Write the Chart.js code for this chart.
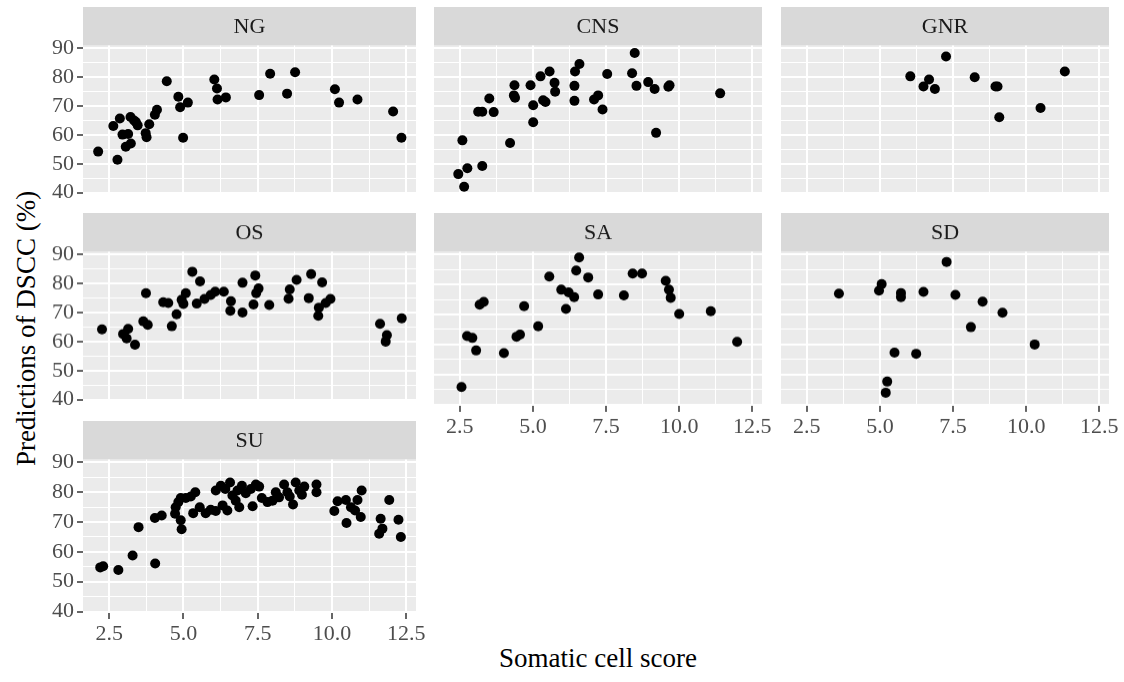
<!DOCTYPE html>
<html>
<head>
<meta charset="utf-8">
<script src="https://cdn.jsdelivr.net/npm/chart.js@4.4.1/dist/chart.umd.min.js"></script>
<style>
  html, body { margin: 0; padding: 0; background: #fff; }
  #wrap { position: relative; width: 1124px; height: 682px; overflow: hidden; }
  #wrap canvas { position: absolute; }
  .axis-title { position: absolute; font-family: "Liberation Serif", "Times New Roman", serif; font-size: 27px; color: #000; white-space: nowrap; }
</style>
</head>
<body>
<div id="wrap">
  <div class="axis-title" id="xTitle">Somatic cell score</div>
  <div class="axis-title" id="yTitle">Predictions of DSCC (%)</div>
</div>
<script>
// facet labels, in facet_wrap order
const groups = ['NG', 'CNS', 'GNR', 'OS', 'SA', 'SD', 'SU'];

// x = somatic cell score, y = predicted DSCC (%) for each group
const ngScore = [2.13, 2.64, 2.86, 2.78, 2.95, 3.14, 3.06, 3.23, 3.22, 3.34, 3.46, 3.40, 3.73, 3.76, 3.85, 4.04, 4.11, 4.44, 4.83, 4.89, 5.15, 4.99, 6.04, 6.13, 6.15, 6.43, 7.55, 7.92, 8.49, 8.76, 10.10, 10.24, 10.86, 12.06, 12.34];
const ngPred  = [54.2, 63.1, 65.7, 51.4, 60.1, 60.3, 55.9, 57.0, 66.2, 65.0, 63.3, 64.5, 60.6, 59.2, 63.7, 67.0, 68.7, 78.6, 73.2, 69.6, 71.2, 59.0, 79.2, 76.1, 72.3, 73.0, 73.8, 81.2, 74.3, 81.7, 75.8, 71.2, 72.3, 68.1, 59.0];

const cnsScore = [8.48, 6.59, 6.44, 5.57, 5.26, 5.74, 5.76, 6.42, 6.42, 7.54, 8.39, 8.54, 8.94, 9.16, 9.63, 9.67, 11.40, 9.21, 7.09, 7.23, 7.38, 4.92, 5.01, 5.01, 5.35, 5.43, 4.37, 4.35, 4.39, 4.22, 3.51, 3.13, 3.27, 3.66, 2.59, 3.27, 2.76, 2.45, 2.65];
const cnsPred  = [88.4, 84.6, 82.0, 82.0, 80.3, 78.1, 75.0, 77.0, 71.8, 81.1, 81.4, 77.0, 78.3, 75.9, 76.7, 77.2, 74.4, 60.7, 72.3, 73.7, 68.8, 77.2, 70.3, 64.4, 72.0, 71.4, 77.2, 73.7, 72.9, 57.2, 72.6, 68.0, 68.0, 67.9, 58.1, 49.2, 48.4, 46.4, 42.0];

const gnrScore = [6.04, 6.49, 6.68, 6.88, 7.26, 8.24, 8.95, 9.02, 9.08, 10.49, 11.32];
const gnrPred  = [80.3, 76.8, 79.2, 75.9, 87.2, 80.0, 76.8, 76.8, 66.1, 69.3, 82.0];

const osScore = [2.26, 2.97, 3.14, 3.09, 3.37, 3.74, 3.65, 3.80, 4.32, 4.49, 4.61, 4.77, 4.94, 5.00, 5.08, 5.30, 5.56, 5.45, 5.71, 5.92, 6.07, 6.36, 6.60, 6.58, 6.99, 6.99, 7.36, 7.42, 7.53, 7.45, 7.89, 8.54, 8.58, 8.81, 9.22, 9.30, 9.67, 9.56, 9.54, 9.79, 9.95, 11.62, 11.85, 11.81, 12.35];
const osPred  = [64.2, 62.6, 64.4, 61.1, 58.9, 76.7, 67.0, 65.8, 73.6, 73.3, 65.3, 69.4, 74.4, 73.0, 76.7, 84.1, 80.8, 73.1, 74.7, 76.1, 77.2, 77.2, 73.9, 70.6, 80.3, 70.0, 72.8, 82.8, 78.3, 76.7, 72.6, 74.8, 78.0, 81.3, 75.0, 83.3, 80.4, 71.7, 68.9, 73.3, 74.7, 66.1, 62.2, 60.0, 68.0];

const saScore = [2.56, 2.75, 2.93, 3.06, 3.18, 3.32, 4.01, 4.44, 4.56, 4.70, 5.18, 5.56, 5.97, 6.22, 6.41, 6.13, 6.48, 6.58, 6.89, 7.23, 8.11, 8.41, 8.73, 9.54, 9.65, 9.71, 10.00, 11.08, 11.98];
const saPred  = [45.8, 62.8, 62.2, 58.0, 73.3, 74.2, 57.1, 62.6, 63.3, 72.8, 66.1, 82.7, 78.3, 77.4, 75.8, 71.9, 84.7, 89.1, 82.4, 76.7, 76.4, 83.7, 83.7, 81.3, 78.3, 75.6, 70.2, 71.1, 60.9];

const sdScore = [3.60, 4.97, 5.06, 5.72, 5.72, 6.49, 7.28, 7.58, 8.51, 9.19, 8.11, 10.29, 5.50, 6.24, 5.25, 5.20];
const sdPred  = [77.0, 78.0, 80.2, 77.2, 75.8, 77.6, 87.6, 76.6, 74.3, 70.6, 65.8, 60.0, 57.3, 56.9, 47.6, 43.9];

const suScore = [2.20, 2.30, 2.81, 3.29, 3.49, 4.05, 4.04, 4.27, 4.72, 4.74, 4.83, 4.91, 4.91, 4.94, 5.08, 5.25, 5.40, 5.33, 5.55, 5.75, 5.92, 6.09, 6.09, 6.26, 6.32, 6.41, 6.48, 6.57, 6.65, 6.76, 6.82, 6.88, 6.97, 7.10, 7.27, 7.33, 7.44, 7.55, 7.64, 7.83, 8.00, 8.11, 8.22, 8.39, 8.50, 8.58, 8.69, 8.78, 8.90, 8.99, 9.07, 9.48, 9.48, 10.08, 10.19, 10.47, 10.49, 10.64, 10.78, 10.86, 10.97, 11.00, 11.64, 11.59, 11.70, 11.93, 12.24, 12.32];
const suPred  = [54.8, 55.2, 53.9, 58.8, 68.3, 56.1, 71.4, 72.2, 72.8, 75.0, 76.7, 78.1, 70.6, 67.6, 78.1, 78.6, 80.0, 73.0, 75.0, 73.0, 74.1, 73.7, 80.6, 82.2, 75.6, 81.1, 73.9, 83.3, 78.9, 77.2, 80.6, 75.0, 82.2, 79.7, 81.1, 75.3, 82.6, 81.9, 78.1, 76.7, 77.2, 80.0, 78.3, 82.6, 80.0, 78.6, 75.9, 83.3, 80.6, 79.2, 81.9, 82.6, 80.0, 73.7, 77.0, 77.4, 69.7, 75.0, 73.9, 77.4, 71.7, 80.6, 71.1, 66.1, 67.8, 77.4, 70.8, 65.0];

// axis tick labels
const xTickLabels = ['2.5', '5.0', '7.5', '10.0', '12.5'];
const yTickLabels = ['40', '50', '60', '70', '80', '90'];

const seriesX = [ngScore, cnsScore, gnrScore, osScore, saScore, sdScore, suScore];
const seriesY = [ngPred, cnsPred, gnrPred, osPred, saPred, sdPred, suPred];

// facet grid geometry
const colLeft = [82.5, 429, 776];
const rowTop = [6.7, 213.3, 420.7];
const plotW = 333, plotH = 154, stripH = 38.5;
const yAxisW = 52, xAxisH = 40, padR = 16;

const serif = '"Liberation Serif", "Times New Roman", serif';

const facetPlugin = {
  id: 'facet',
  beforeDraw(chart, args, opts) {
    const {ctx, chartArea: a} = chart;
    ctx.save();
    ctx.fillStyle = '#ebebeb';
    ctx.fillRect(a.left, a.top, a.right - a.left, a.bottom - a.top);
    ctx.fillStyle = '#d9d9d9';
    ctx.fillRect(a.left, a.top - stripH, a.right - a.left, stripH);
    ctx.fillStyle = '#1a1a1a';
    ctx.font = '22px ' + serif;
    ctx.textAlign = 'center';
    ctx.textBaseline = 'middle';
    ctx.fillText(opts.label, (a.left + a.right) / 2, a.top - stripH / 2 + 1);
    ctx.restore();
  }
};

const wrap = document.getElementById('wrap');

groups.forEach((name, i) => {
  const row = Math.floor(i / 3), col = i % 3;
  const showY = col === 0;
  const showX = i === 4 || i === 5 || i === 6;
  const yw = showY ? yAxisW : 0;
  const xh = showX ? xAxisH : 0;

  const canvas = document.createElement('canvas');
  const w = yw + plotW + padR, h = stripH + plotH + xh;
  canvas.width = w;
  canvas.height = h;
  canvas.style.width = w + 'px';
  canvas.style.height = h + 'px';
  canvas.style.left = (colLeft[col] - yw) + 'px';
  canvas.style.top = rowTop[row] + 'px';
  wrap.appendChild(canvas);

  const pts = seriesX[i].map((x, k) => ({x: x, y: seriesY[i][k]}));

  new Chart(canvas, {
    type: 'scatter',
    data: {
      datasets: [{
        data: pts,
        backgroundColor: '#000',
        borderWidth: 0,
        pointRadius: 5,
        pointHoverRadius: 5
      }]
    },
    options: {
      responsive: false,
      animation: false,
      devicePixelRatio: 1,
      layout: {padding: {top: stripH, right: padR, left: 0, bottom: 0}},
      plugins: {
        legend: {display: false},
        tooltip: {enabled: false},
        facet: {label: name}
      },
      scales: {
        x: {
          type: 'linear',
          min: 1.62,
          max: 12.83,
          border: {display: false},
          grid: {
            color: '#ffffff',
            lineWidth: c => (c.tick && xTickLabels.includes(c.tick.value.toFixed(1))) ? 2 : 1,
            drawTicks: showX,
            tickLength: 6,
            tickWidth: 1.5,
            tickColor: c => (c.tick && xTickLabels.includes(c.tick.value.toFixed(1))) ? '#333333' : 'rgba(0,0,0,0)'
          },
          ticks: {
            display: showX,
            stepSize: 1.25,
            includeBounds: false,
            maxRotation: 0,
            autoSkip: false,
            padding: 2,
            color: '#4d4d4d',
            font: {family: serif, size: 22},
            callback: v => {
              const s = v.toFixed(1);
              return xTickLabels.includes(s) ? s : '';
            }
          },
          afterFit(scale) {
            scale.height = xh;
            scale.paddingLeft = 0;
            scale.paddingRight = 0;
          }
        },
        y: {
          type: 'linear',
          min: 39.5,
          max: 91.0,
          border: {display: false},
          grid: {
            color: '#ffffff',
            lineWidth: c => (c.tick && c.tick.value % 10 === 0) ? 2 : 1,
            drawTicks: showY,
            tickLength: 6,
            tickWidth: 1.5,
            tickColor: c => (c.tick && c.tick.value % 10 === 0) ? '#333333' : 'rgba(0,0,0,0)'
          },
          ticks: {
            display: showY,
            stepSize: 5,
            includeBounds: false,
            autoSkip: false,
            padding: 3,
            color: '#4d4d4d',
            font: {family: serif, size: 22},
            callback: v => yTickLabels.includes(String(v)) ? String(v) : ''
          },
          afterFit(scale) {
            scale.width = yw;
            scale.paddingTop = 0;
            scale.paddingBottom = 0;
          }
        }
      }
    },
    plugins: [facetPlugin]
  });
});

// axis titles, centred on the panel block
const xTitle = document.getElementById('xTitle');
xTitle.style.left = (598 - xTitle.offsetWidth / 2) + 'px';
xTitle.style.top = '643px';
const yTitle = document.getElementById('yTitle');
yTitle.style.left = (26 - yTitle.offsetWidth / 2) + 'px';
yTitle.style.top = (328 - yTitle.offsetHeight / 2) + 'px';
yTitle.style.transform = 'rotate(-90deg)';
</script>
</body>
</html>
